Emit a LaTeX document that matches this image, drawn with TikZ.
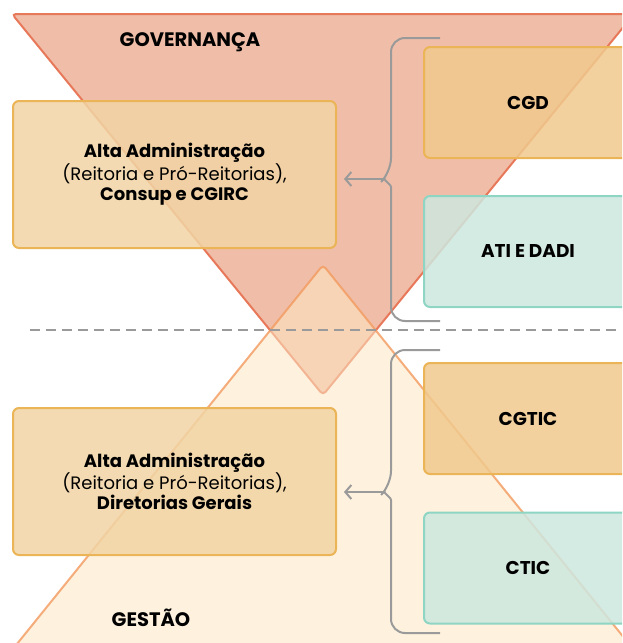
\documentclass[tikz,border=0pt]{standalone}
\usepackage{fontspec}
\setmainfont{Poppins}
\usepackage{xcolor}
\usepackage{tikz}
\usetikzlibrary{arrows.meta}

\definecolor{govfill}{HTML}{F0BEA8}
\definecolor{govline}{HTML}{E8785A}
\definecolor{gesfill}{HTML}{FDE7C3}
\definecolor{gesline}{HTML}{F39A5E}
\definecolor{altafill}{HTML}{F1D4A4}
\definecolor{altaline}{HTML}{EBB456}
\definecolor{orgfill}{HTML}{F0C98D}
\definecolor{tealfill}{HTML}{CDE7DF}
\definecolor{tealline}{HTML}{8ED5C3}
\definecolor{linegray}{HTML}{9A9A9A}

\tikzset{
  altabox/.style={draw=altaline, line width=2pt, fill=altafill, fill opacity=0.85, text opacity=1,
    rounded corners=6pt, minimum width=323pt, minimum height=147pt, align=center,
    font=\fontsize{18}{20}\selectfont},
  orgbox/.style={draw=altaline, line width=2pt, fill=orgfill, fill opacity=0.85, text opacity=1,
    rounded corners=6pt, minimum width=208pt, minimum height=111pt,
    font=\fontsize{18.5}{20}\selectfont\bfseries},
  tealbox/.style={orgbox, draw=tealline, fill=tealfill},
  brace/.style={draw=linegray, line width=2pt},
  levellabel/.style={font=\fontsize{19.5}{20}\selectfont\bfseries}
}

\begin{document}
\begin{tikzpicture}[x=1pt, y=-1pt]
    \useasboundingbox (0,0) rectangle (622,643);
    \clip (0,0) rectangle (622,643);
    % Triangles
    \draw[line width=2pt, draw=govline, fill=govfill, rounded corners=4pt]
        (12,14) -- (634,14) -- (323,395) -- cycle;
    \draw[line width=2pt, draw=gesline, draw opacity=0.8, fill=gesfill, fill opacity=0.55, rounded corners=4pt]
        (323,265) -- (642,660) -- (4,660) -- cycle;
    \draw[linegray, line width=2pt, dash pattern=on 10pt off 6pt] (30,330) -- (622,330);
    \node[levellabel] (gov) at (190,42) {GOVERNANÇA};
    \node[levellabel] (ges) at (151,618) {GESTÃO};
    % Governance level
    \node[altabox] (govbox) at (174.5,174.5)
        {\textbf{Alta Administração}\\(Reitoria e Pró-Reitorias),\\\textbf{Consup e CGIRC}};
    \node[orgbox] (cgd) at (528,102.5) {CGD};
    \node[tealbox] (ati) at (528,251.5) {ATI E DADI};
    \coordinate (govtip) at (384,179);
    \draw[brace] (440,38) [rounded corners=14pt] -| (391,172) [rounded corners=1pt] -- (govtip)
        -- (391,186) [rounded corners=14pt] |- (440,321);
    \draw[brace, ->, >={Straight Barb[length=6pt, width=14pt]}, shorten >=7pt] (govtip) -- (govtip -| govbox.east);
    % Management level
    \node[altabox] (gesbox) at (174.5,481.5)
        {\textbf{Alta Administração}\\(Reitoria e Pró-Reitorias),\\\textbf{Diretorias Gerais}};
    \node[orgbox] (cgtic) at (528,418.5) {CGTIC};
    \node[tealbox] (ctic) at (528,568) {CTIC};
    \coordinate (gestip) at (384,492);
    \draw[brace] (440,350) [rounded corners=14pt] -| (391,485) [rounded corners=1pt] -- (gestip)
        -- (391,499) [rounded corners=14pt] |- (440,633);
    \draw[brace, ->, >={Straight Barb[length=6pt, width=14pt]}, shorten >=7pt] (gestip) -- (gestip -| gesbox.east);
\end{tikzpicture}
\end{document}
